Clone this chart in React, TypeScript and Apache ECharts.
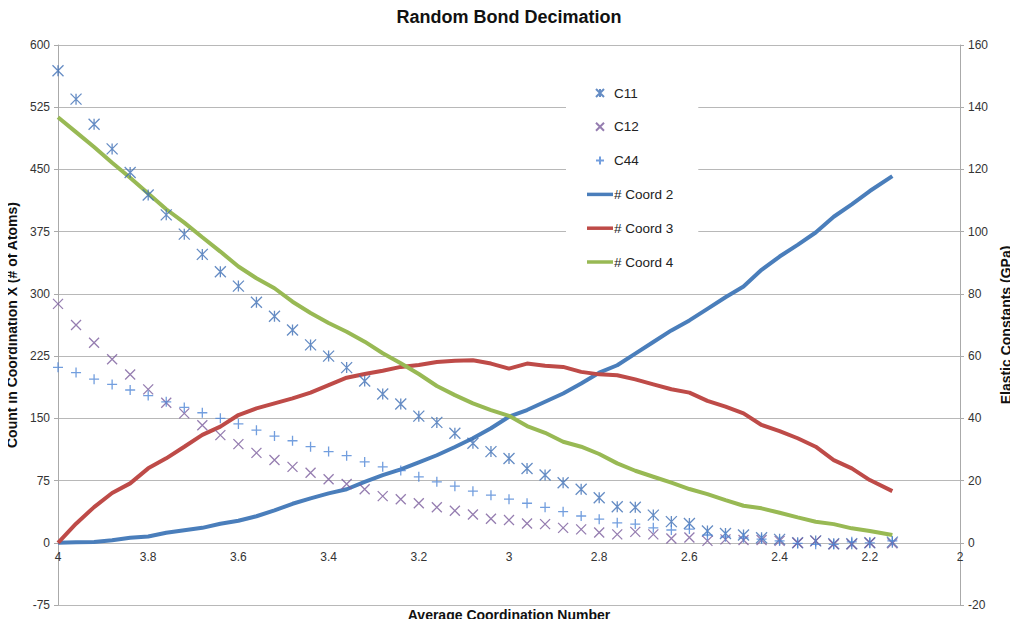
import React, { useEffect, useRef } from "react";
import * as echarts from "echarts";

// Average coordination number (x positions of samples)
const X_VALUES: number[] = [
  4.0, 3.96, 3.92, 3.88, 3.84, 3.8, 3.76, 3.72, 3.68, 3.64, 3.6, 3.56, 3.52, 3.48, 3.44, 3.4,
  3.36, 3.32, 3.28, 3.24, 3.2, 3.16, 3.12, 3.08, 3.04, 3.0, 2.96, 2.92, 2.88, 2.84, 2.8, 2.76,
  2.72, 2.68, 2.64, 2.6, 2.56, 2.52, 2.48, 2.44, 2.4, 2.36, 2.32, 2.28, 2.24, 2.2, 2.15,
];

// Elastic constants (GPa) – right axis
const C11: number[] = [
  151.7, 142.6, 134.5, 126.6, 119.0, 111.8, 105.4, 99.2, 92.7, 87.1, 82.5, 77.3, 72.8, 68.4, 63.6, 60.0,
  56.3, 52.0, 47.8, 44.6, 40.7, 38.7, 35.2, 32.0, 29.3, 27.1, 23.9, 21.8, 19.3, 17.2, 14.5, 11.6,
  11.4, 8.9, 6.8, 6.2, 3.8, 3.0, 2.5, 1.6, 1.1, 0.0, 0.6, -0.3, -0.3, 0.0, 0.2,
];
const C12: number[] = [
  76.8, 70.0, 64.3, 59.0, 54.1, 49.3, 45.0, 41.6, 37.8, 34.6, 31.7, 28.9, 26.6, 24.4, 22.5, 20.4,
  18.9, 17.2, 15.0, 14.0, 12.7, 11.4, 10.3, 9.1, 7.7, 7.3, 6.2, 6.0, 4.8, 4.3, 3.3, 2.7,
  3.5, 2.7, 1.4, 1.7, 0.6, 1.1, 0.9, 0.9, 0.6, 0.0, 0.6, -0.5, -0.5, 0.0, -0.2,
];
const C44: number[] = [
  56.4, 54.7, 52.6, 50.9, 49.1, 47.3, 45.3, 43.5, 41.8, 40.0, 38.2, 36.2, 34.3, 32.8, 30.9, 29.3,
  28.0, 26.0, 24.4, 23.2, 21.2, 19.6, 18.2, 16.6, 15.3, 14.0, 12.7, 11.4, 10.0, 8.6, 7.6, 6.4,
  6.0, 4.8, 4.1, 4.4, 2.5, 1.9, 1.6, 1.2, 0.6, -0.2, -0.5, -0.5, 0.3, 0.0, 0.6,
];

// Count of atoms in coordination X – left axis
const COORD2: number[] = [
  0, 0.5, 1, 3, 6, 7.5, 12, 15, 18, 23, 26.5, 32, 39, 47, 53.5, 59.5,
  64.5, 73.5, 81.5, 88.5, 97, 105.5, 115.5, 126, 138, 152, 160, 170, 180, 192, 205, 214,
  228, 242, 256, 268, 282, 296, 309, 329, 345, 359, 374, 393, 408, 424, 442,
];
const COORD3: number[] = [
  0, 23, 43, 60, 71.6, 89.7, 101.8, 115.8, 130, 140, 154, 162, 168, 174, 181, 190,
  199, 203.4, 207.4, 212, 214.3, 218, 219.5, 220, 216, 210, 216, 213.5, 212, 206, 203, 202,
  197, 191, 185, 181, 171, 164, 156, 142, 134.7, 126, 115.8, 99.7, 89.7, 75.6, 62.3,
];
const COORD4: number[] = [
  513, 495, 477, 458, 440, 421, 402, 385.9, 368.3, 351, 333, 318.8, 306.8, 290.6, 277, 265,
  254.4, 242.4, 228.4, 216.3, 203.4, 189, 178, 168, 160, 153, 140.7, 132.6, 121.8, 115.8, 107, 95.7,
  86.8, 79.6, 72.4, 64.8, 58.7, 51.5, 44.6, 41.5, 36.2, 30.6, 25.3, 22.5, 17.4, 14.1, 9.3,
];

const X_TICKS = { min: 2, max: 4, interval: 0.2 };
const LEFT_TICKS = { min: -75, max: 600, interval: 75 };
const RIGHT_TICKS = { min: -20, max: 160, interval: 20 };

const TITLE = "Random Bond Decimation";
const X_NAME = "Average Coordination Number";
const LEFT_NAME = "Count in Coordination X (# of Atoms)";
const RIGHT_NAME = "Elastic Constants (GPa)";

const FONT = "'Liberation Sans', Arial, Helvetica, sans-serif";

const pair = (ys: number[]) => X_VALUES.map((x, i) => [x, ys[i]]);

const SYM_ASTERISK = "path://M0,0L10,10M10,0L0,10M5,0L5,10";
const SYM_X = "path://M0,0L10,10M10,0L0,10";
const SYM_PLUS = "path://M5,0L5,10M0,5L10,5";
const LINE_ICON = "path://M0,0L26,0L26,3.5L0,3.5Z";

export default function App() {
  const ref = useRef<HTMLDivElement>(null);

  useEffect(() => {
    if (!ref.current) return;
    const chart = echarts.init(ref.current, undefined, { renderer: "svg" });

    const scatter = (name: string, data: number[], symbol: string, color: string, size: number) => ({
      name,
      type: "scatter",
      yAxisIndex: 1,
      data: pair(data),
      symbol,
      symbolSize: size,
      itemStyle: { color: "rgba(0,0,0,0)", borderColor: color, borderWidth: 1.3 },
      z: 3,
    });
    const line = (name: string, data: number[], color: string) => ({
      name,
      type: "line",
      yAxisIndex: 0,
      data: pair(data),
      symbol: "none",
      showSymbol: false,
      lineStyle: { color, width: 4 },
      itemStyle: { color },
      z: 2,
    });

    const axisLabel = { color: "#333", fontFamily: FONT, fontSize: 12 };
    const gridColor = "#b8b8b8";

    // grid geometry: top 45, bottom edge at 605 (value -75); zero of left axis sits above bottom
    const gridTop = 45;
    const gridBottom = 22;
    const plotH = 627 - gridTop - gridBottom;
    const zeroOffset = -plotH * (0 - LEFT_TICKS.min) / (LEFT_TICKS.max - LEFT_TICKS.min);

    chart.setOption({
      animation: false,
      backgroundColor: "#fff",
      title: {
        text: TITLE,
        left: "center",
        top: 3,
        textStyle: { fontFamily: FONT, fontSize: 18, fontWeight: "bold", color: "#111" },
      },
      grid: {
        left: 58,
        right: 58,
        top: gridTop,
        bottom: gridBottom,
        containLabel: false,
        outerBoundsMode: "none",
      },
      legend: {
        orient: "vertical",
        left: 566,
        top: 72,
        padding: [14, 25, 14, 21],
        backgroundColor: "#fff",
        itemWidth: 26,
        itemHeight: 8,
        itemGap: 19.8,
        textStyle: { fontFamily: FONT, fontSize: 13.5, color: "#222", padding: [0, 0, 0, -4] },
        data: [
          { name: "C11" },
          { name: "C12" },
          { name: "C44" },
          { name: "# Coord 2", icon: LINE_ICON },
          { name: "# Coord 3", icon: LINE_ICON },
          { name: "# Coord 4", icon: LINE_ICON },
        ],
      },
      xAxis: {
        type: "value",
        inverse: true,
        min: X_TICKS.min,
        max: X_TICKS.max,
        interval: X_TICKS.interval,
        position: "bottom",
        offset: zeroOffset,
        name: X_NAME,
        nameLocation: "middle",
        nameGap: 65,
        nameTextStyle: { fontFamily: FONT, fontSize: 14, fontWeight: "bold", color: "#111" },
        axisLine: { show: false, onZero: false },
        axisTick: { show: false },
        axisLabel: { ...axisLabel, margin: 8, formatter: (v: number) => String(+v.toFixed(1)) },
        splitLine: { show: false },
      },
      yAxis: [
        {
          type: "value",
          position: "left",
          min: LEFT_TICKS.min,
          max: LEFT_TICKS.max,
          interval: LEFT_TICKS.interval,
          name: LEFT_NAME,
          nameLocation: "middle",
          nameRotate: 90,
          nameGap: 25,
          nameTextStyle: { fontFamily: FONT, fontSize: 14, fontWeight: "bold", color: "#111" },
          axisLine: { show: true, lineStyle: { color: "#aaa", width: 1 } },
          axisTick: { show: true, length: 4, lineStyle: { color: "#aaa" } },
          axisLabel: { ...axisLabel, margin: 8 },
          splitLine: { show: true, lineStyle: { color: gridColor, width: 1 } },
        },
        {
          type: "value",
          position: "right",
          min: RIGHT_TICKS.min,
          max: RIGHT_TICKS.max,
          interval: RIGHT_TICKS.interval,
          name: RIGHT_NAME,
          nameLocation: "middle",
          nameRotate: 90,
          nameGap: 39,
          nameTextStyle: { fontFamily: FONT, fontSize: 14, fontWeight: "bold", color: "#111" },
          axisLine: { show: true, lineStyle: { color: "#aaa", width: 1 } },
          axisTick: { show: true, length: 4, lineStyle: { color: "#aaa" } },
          axisLabel: { ...axisLabel, margin: 8 },
          splitLine: { show: false },
        },
      ],
      series: [
        line("# Coord 2", COORD2, "#4a7ebb"),
        line("# Coord 3", COORD3, "#be4b48"),
        line("# Coord 4", COORD4, "#98b954"),
        scatter("C11", C11, SYM_ASTERISK, "#3f6fb5", 11),
        scatter("C12", C12, SYM_X, "#7a5c9c", 10),
        scatter("C44", C44, SYM_PLUS, "#4f86d6", 10),
      ],
    });

    return () => chart.dispose();
  }, []);

  return <div ref={ref} style={{ width: 1018, height: 627, margin: -8 }} />;
}
